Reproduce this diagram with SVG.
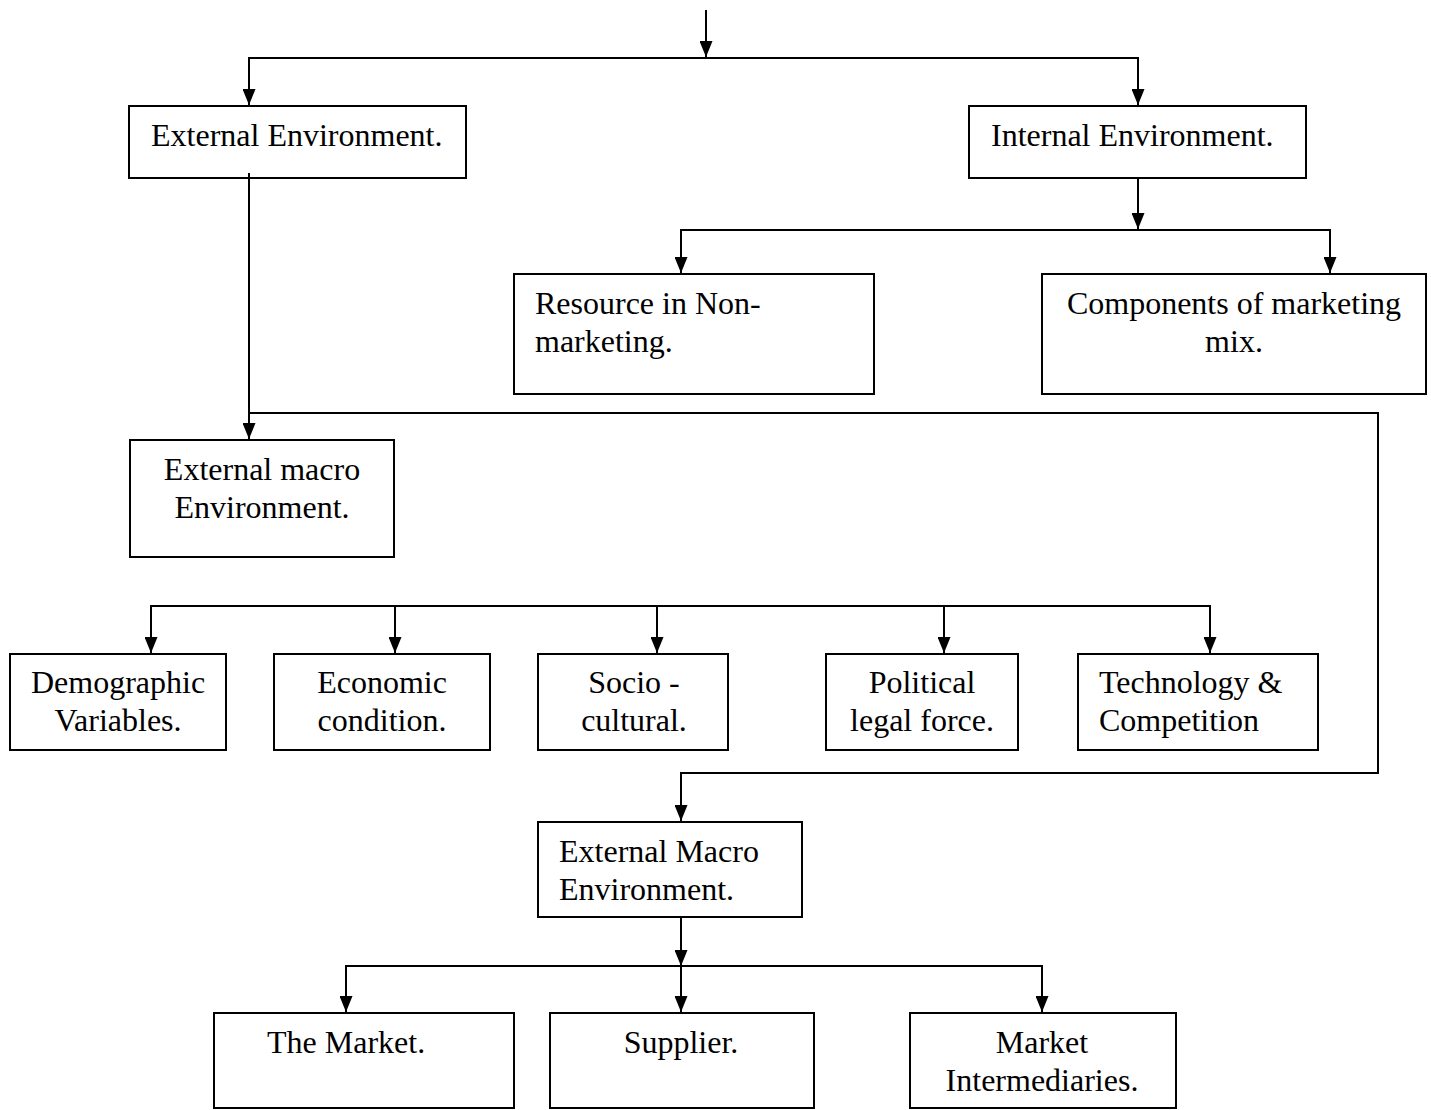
<svg xmlns="http://www.w3.org/2000/svg" width="1431" height="1110" viewBox="0 0 1431 1110">
<style>
.box{fill:#fff;stroke:#000;stroke-width:2}
.t{font-family:"Liberation Serif","Times New Roman",serif;font-size:32px;fill:#000}
.c{text-anchor:middle}
.conn{fill:none;stroke:#000;stroke-width:2}
</style>
<defs>
<marker id="a" markerUnits="userSpaceOnUse" markerWidth="16" markerHeight="13" refX="16" refY="6.5" orient="auto" viewBox="0 0 16 13">
<path d="M0,0 L16,6.5 L0,13 Z" fill="#000"/>
</marker>
</defs>
<g id="external-environment">
<rect class="box" x="129" y="106" width="337" height="72"/>
<text class="t" x="151" y="146">External Environment.</text>
</g>
<g id="internal-environment">
<rect class="box" x="969" y="106" width="337" height="72"/>
<text class="t" x="991" y="146">Internal Environment.</text>
</g>
<g id="resource-non-marketing">
<rect class="box" x="514" y="274" width="360" height="120"/>
<text class="t" x="535" y="314">Resource in Non-</text>
<text class="t" x="535" y="352">marketing.</text>
</g>
<g id="components-marketing-mix">
<rect class="box" x="1042" y="274" width="384" height="120"/>
<text class="t c" x="1234" y="314">Components of marketing</text>
<text class="t c" x="1234" y="352">mix.</text>
</g>
<g id="external-macro-environment-1">
<rect class="box" x="130" y="440" width="264" height="117"/>
<text class="t c" x="262" y="480">External macro</text>
<text class="t c" x="262" y="518">Environment.</text>
</g>
<g id="demographic">
<rect class="box" x="10" y="654" width="216" height="96"/>
<text class="t c" x="118" y="693">Demographic</text>
<text class="t c" x="118" y="731">Variables.</text>
</g>
<g id="economic">
<rect class="box" x="274" y="654" width="216" height="96"/>
<text class="t c" x="382" y="693">Economic</text>
<text class="t c" x="382" y="731">condition.</text>
</g>
<g id="socio-cultural">
<rect class="box" x="538" y="654" width="190" height="96"/>
<text class="t c" x="634" y="693">Socio -</text>
<text class="t c" x="634" y="731">cultural.</text>
</g>
<g id="political">
<rect class="box" x="826" y="654" width="192" height="96"/>
<text class="t c" x="922" y="693">Political</text>
<text class="t c" x="922" y="731">legal force.</text>
</g>
<g id="technology">
<rect class="box" x="1078" y="654" width="240" height="96"/>
<text class="t" x="1099" y="693">Technology &amp;</text>
<text class="t" x="1099" y="731">Competition</text>
</g>
<g id="external-macro-environment-2">
<rect class="box" x="538" y="822" width="264" height="95"/>
<text class="t" x="559" y="862">External Macro</text>
<text class="t" x="559" y="900">Environment.</text>
</g>
<g id="the-market">
<rect class="box" x="214" y="1013" width="300" height="95"/>
<text class="t" x="267" y="1053">The Market.</text>
</g>
<g id="supplier">
<rect class="box" x="550" y="1013" width="264" height="95"/>
<text class="t c" x="681" y="1053">Supplier.</text>
</g>
<g id="market-intermediaries">
<rect class="box" x="910" y="1013" width="266" height="95"/>
<text class="t c" x="1042" y="1053">Market</text>
<text class="t c" x="1042" y="1091">Intermediaries.</text>
</g>
<g id="connectors">
<path class="conn" d="M706,10 V57" marker-end="url(#a)"/>
<path class="conn" d="M249,105 V58 H1138 V105" marker-end="url(#a)"/>
<path class="conn" d="M249,58 V105" marker-end="url(#a)"/>
<path class="conn" d="M1138,179 V229" marker-end="url(#a)"/>
<path class="conn" d="M681,273 V230 H1330 V273" marker-end="url(#a)"/>
<path class="conn" d="M681,230 V273" marker-end="url(#a)"/>
<path class="conn" d="M249,173 V439" marker-end="url(#a)"/>
<path class="conn" d="M249,413 H1378 V773 H681 V821" marker-end="url(#a)"/>
<path class="conn" d="M151,653 V606 H1210 V653" marker-end="url(#a)"/>
<path class="conn" d="M151,606 V653" marker-end="url(#a)"/>
<path class="conn" d="M395,606 V653" marker-end="url(#a)"/>
<path class="conn" d="M657,606 V653" marker-end="url(#a)"/>
<path class="conn" d="M944,606 V653" marker-end="url(#a)"/>
<path class="conn" d="M681,918 V966" marker-end="url(#a)"/>
<path class="conn" d="M346,1012 V966 H1042 V1012" marker-end="url(#a)"/>
<path class="conn" d="M346,966 V1012" marker-end="url(#a)"/>
<path class="conn" d="M681,966 V1012" marker-end="url(#a)"/>
</g>
</svg>
